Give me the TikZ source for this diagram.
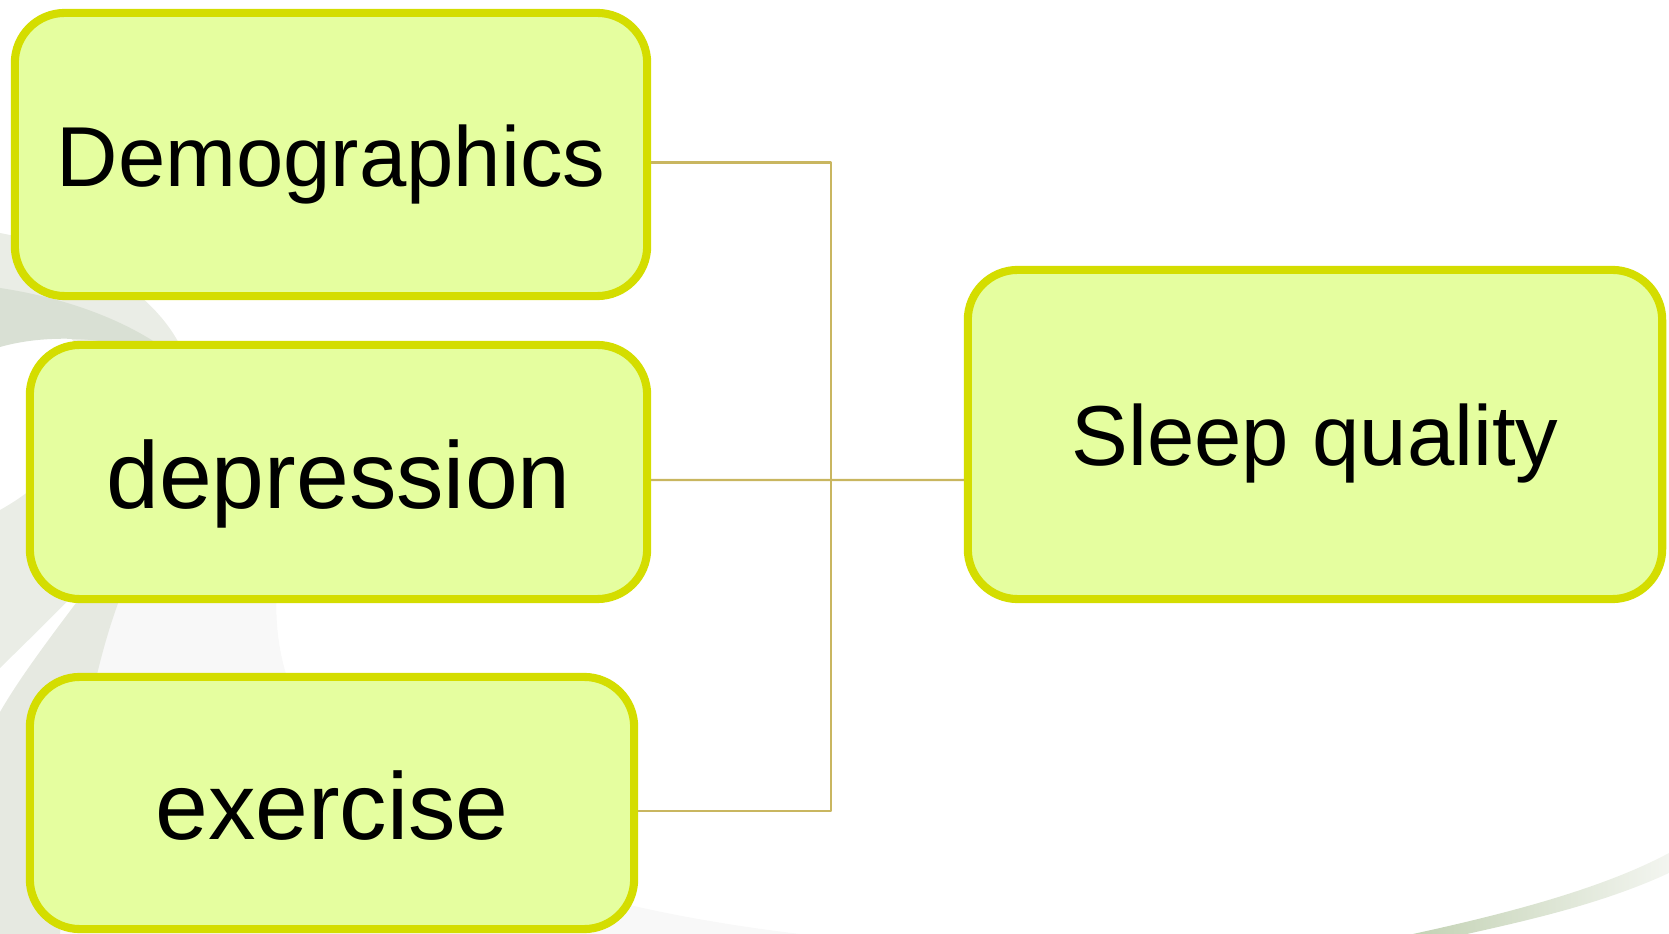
\documentclass[tikz,border=0pt]{standalone}
\usepackage{fontspec}
\setmainfont{Liberation Sans}
\definecolor{boxfill}{HTML}{E5FE9F}
\definecolor{boxline}{HTML}{D4DD00}
\definecolor{linkline}{HTML}{C9B660}
\definecolor{swishA}{HTML}{EAEDE6}
\definecolor{swishB}{HTML}{D9E0D4}
\definecolor{swishC}{HTML}{E6E9E1}
\definecolor{swishD}{HTML}{F8F8F8}
\definecolor{swishE}{HTML}{C3D2B4}
\definecolor{swishF}{HTML}{F3F5F0}
\tikzset{
  item/.style={draw=boxline,fill=boxfill,line width=2.3pt,rounded corners=0.5cm,inner sep=0pt,text height=0.92cm,text depth=0.2cm},
  smalltext/.style={font=\fontsize{24.2pt}{29pt}\selectfont},
  bigtext/.style={font=\fontsize{27pt}{32pt}\selectfont},
  link/.style={draw=linkline,line width=0.6pt}
}
\begin{document}
\begin{tikzpicture}[x=0.01cm,y=-0.01cm,line join=round]
\useasboundingbox (0,0) rectangle (1669,934);
% slide background
\fill[swishD] (100,560) -- (280,560) .. controls (255,720) and (350,880) .. (800,934) -- (30,934) -- cycle;
\fill[swishA] (0,233) .. controls (90,250) and (170,300) .. (190,370) .. controls (215,460) and (110,560) .. (0,668) -- (0,510) .. controls (90,460) and (120,370) .. (67,336) .. controls (40,334) and (20,340) .. (0,346) -- cycle;
\fill[swishB] (0,288) .. controls (80,300) and (150,330) .. (190,370) .. controls (140,340) and (60,330) .. (0,347) -- cycle;
\fill[swishC] (0,712) .. controls (30,660) and (80,600) .. (130,530) -- (155,525) .. controls (110,600) and (80,700) .. (60,934) -- (0,934) -- cycle;
\shade[left color=swishE,right color=swishF] (1413,934) .. controls (1500,915) and (1600,890) .. (1669,853) -- (1669,873) .. controls (1600,905) and (1520,922) .. (1467,934) -- cycle;
% boxes
\node[item,smalltext,text height=0.84cm,minimum width=6.32cm,minimum height=2.83cm] (dem) at (331,154.5) {Demographics};
\node[item,bigtext,minimum width=6.17cm,minimum height=2.54cm] (dep) at (338.5,472) {depression};
\node[item,bigtext,minimum width=6.04cm,minimum height=2.52cm] (exe) at (332,803) {exercise};
\node[item,smalltext,text height=0.81cm,minimum width=6.94cm,minimum height=3.29cm] (slp) at (1315,434.5) {Sleep quality};
% connectors
\coordinate (jn) at (831,480);
\draw[link] ([yshift=-0.08cm]dem.east) -| (jn);
\draw[link] ([yshift=-0.08cm]exe.east) -| (jn);
\draw[link] ([yshift=-0.08cm]dep.east) -- (slp.west |- jn);
\end{tikzpicture}
\end{document}
